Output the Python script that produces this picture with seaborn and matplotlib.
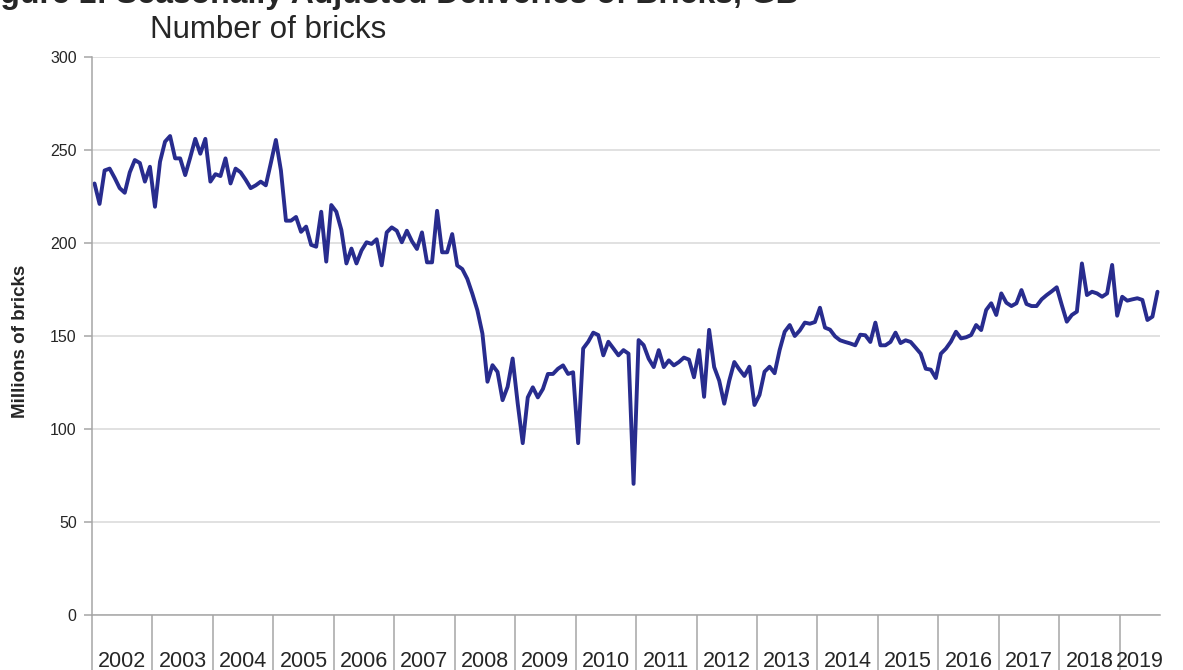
import numpy as np
import pandas as pd
import matplotlib
matplotlib.use("Agg")
import matplotlib.pyplot as plt
import seaborn as sns

# ── Data: seasonally adjusted brick deliveries, millions, Jan 2002 - Aug 2019 ──
years = list(range(2002, 2020))
deliveries = [
    232, 221, 239, 240, 235, 229.5, 227, 238, 244.6, 243, 233, 241,            # 2002
    219.5, 243.7, 254.5, 257.5, 245.5, 245.5, 236.5, 246, 256, 248, 256, 233,  # 2003
    237, 236, 245.5, 232, 240, 238, 234, 229.5, 231, 233, 231, 243,            # 2004
    255.4, 239, 212, 212, 214, 206, 208.8, 199, 198, 216.8, 190, 220.4,        # 2005
    216.8, 207, 189, 197, 189, 196, 200.4, 199.5, 202, 188, 205.7, 208.4,      # 2006
    206.6, 200.4, 206.6, 201, 196.8, 205.7, 189.6, 189.6, 217.3, 195, 195, 204.8,  # 2007
    187.9, 186, 180.7, 172.7, 163.8, 151.3, 125.4, 134.3, 130.7, 115.5, 122.7, 137.9,  # 2008
    113.8, 92.4, 117, 122.4, 117, 121.5, 129.6, 129.6, 132.4, 134.2, 129.6, 130.5,  # 2009
    92.4, 143.3, 146.9, 151.8, 150.5, 139.6, 146.9, 143.3, 139.6, 142.4, 140.5, 70.5,  # 2010
    147.8, 145.1, 137.8, 133.3, 142.4, 133.3, 136.9, 134.2, 136, 138.4, 137.3, 127.8,  # 2011
    142.4, 117.3, 153.3, 133.3, 126, 113.6, 126, 136, 132, 128.5, 133.5, 112.9,  # 2012
    118.3, 130.8, 133.5, 130, 142.5, 152.3, 155.9, 150, 153, 157.2, 156.6, 157.5,  # 2013
    165.2, 154.5, 153.4, 149.8, 147.7, 146.8, 146, 145, 150.7, 150.4, 146.8, 157.2,  # 2014
    145, 145, 146.8, 151.8, 146.2, 147.7, 146.8, 143.7, 140.5, 132.4, 131.9, 127.4,  # 2015
    140.5, 143.2, 147, 152.3, 148.7, 149.3, 150.5, 155.9, 153.2, 164, 167.6, 161.3,  # 2016
    172.9, 167.9, 166.1, 167.6, 174.7, 167.2, 166.1, 166.1, 169.7, 172, 174, 176.2,  # 2017
    166.7, 157.7, 161.3, 163.1, 189, 172, 173.8, 172.9, 171.1, 172.9, 188.2, 160.9,  # 2018
    171.1, 169, 169.7, 170.3, 169.4, 158.6, 160.4, 173.8,                      # 2019
]
yticks = [0, 50, 100, 150, 200, 250, 300]

n = len(deliveries)
df = pd.DataFrame({"month": np.arange(n), "bricks": deliveries})

# ── Style ─────────────────────────────────────────────────────────
sns.set_style("white")
plt.rcParams["font.family"] = ["Liberation Sans", "DejaVu Sans"]
AXIS_GREY = "#a6a6a6"
LINE_BLUE = "#282c8e"

W, H = 1183, 670
fig = plt.figure(figsize=(W / 100, H / 100), dpi=100)
ax = fig.add_axes([92 / W, 1 - 615 / H, (1160 - 92) / W, (615 - 57) / H])

sns.lineplot(data=df, x="month", y="bricks", color=LINE_BLUE, linewidth=2.8, ax=ax)

ax.set_xlim(-0.5, n - 0.5)
ax.set_ylim(0, 300)
ax.set_yticks(yticks)
ax.yaxis.grid(True, color="#d9d9d9", linewidth=1.1)
ax.set_axisbelow(True)

for side in ["top", "right"]:
    ax.spines[side].set_visible(False)
for side in ["left", "bottom"]:
    ax.spines[side].set_color(AXIS_GREY)
    ax.spines[side].set_linewidth(1.1)

# year separators (long ticks below the axis) and centred year labels
bounds = np.arange(0, n, 12) - 0.5
centers = [(b + min(b + 12, n - 0.5)) / 2 for b in bounds]
ax.set_xticks(bounds)
ax.set_xticklabels([])
ax.set_xticks(centers, minor=True)
ax.set_xticklabels([str(y) for y in years], minor=True)
ax.tick_params(axis="x", which="major", bottom=True, length=40, width=1.1,
               color=AXIS_GREY, direction="out")
ax.tick_params(axis="x", which="minor", bottom=True, length=0, pad=26, labelsize=15.5)
ax.tick_params(axis="y", left=True, length=6, width=1.1, color=AXIS_GREY,
               direction="out", pad=5, labelsize=11.5)
ax.set_xlabel("")

ax.set_ylabel("Millions of bricks", fontsize=13.5, fontweight="bold")
ax.yaxis.set_label_coords(-0.059, 0.49)

# titles (the first line is cropped at the top edge in the source)
fig.text(-28 / W, 1 - 3 / H, "Figure 1: Seasonally Adjusted Deliveries of Bricks, GB",
         fontsize=23, fontweight="bold", va="baseline", ha="left")
fig.text(150 / W, 1 - 30 / H, "Number of bricks", fontsize=22.5, va="center", ha="left")

fig.savefig("out.png", dpi=100)
plt.close(fig)
